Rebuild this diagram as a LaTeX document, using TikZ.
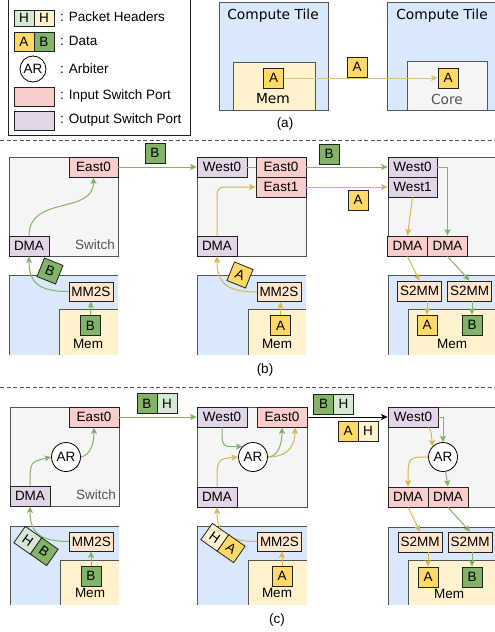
\documentclass[tikz,border=0pt]{standalone}
\usepackage{fontspec}
\setmainfont{Liberation Sans}
\newfontfamily\dejavu{DejaVu Sans}
\usetikzlibrary{arrows.meta,calc}
\definecolor{tileblue}{HTML}{DAE8FC}
\definecolor{memyel}{HTML}{FFF2CC}
\definecolor{swgray}{HTML}{F5F5F5}
\definecolor{inpink}{HTML}{F8CECC}
\definecolor{outpurp}{HTML}{E1D5E7}
\definecolor{convor}{HTML}{FFE6CC}
\definecolor{datA}{HTML}{FFD966}
\definecolor{datB}{HTML}{82B366}
\definecolor{hdrG}{HTML}{D5E8D4}
\definecolor{agreen}{HTML}{82B366}
\definecolor{ayel}{HTML}{D6B656}
\definecolor{apale}{HTML}{D8C27E}
\definecolor{lineC}{HTML}{222222}
\definecolor{tileC}{HTML}{555555}
\newcommand\lblfont{\fontsize{13.5}{15}\selectfont}
\newcommand\legfont{\fontsize{13.5}{16}\selectfont}
\newcommand\tilefont{\dejavu\fontsize{13.8}{15}\selectfont}
\begin{document}
\begin{tikzpicture}[x=1pt,y=-1pt,
  port/.style={draw=lineC, line width=0.8pt, minimum width=49pt, minimum height=20pt, inner sep=0pt, font=\lblfont},
  inport/.style={port, fill=inpink},
  outport/.style={port, fill=outpurp},
  conv/.style={port, fill=convor, minimum width=44pt, minimum height=19pt},
  dat/.style={draw=lineC, line width=0.8pt, minimum width=20pt, minimum height=20pt, inner sep=0pt, font=\lblfont},
  datA/.style={dat, fill=datA},
  datB/.style={dat, fill=datB},
  hdrG/.style={dat, fill=hdrG},
  hdrY/.style={dat, fill=memyel},
  arb/.style={circle, draw=black, line width=0.8pt, fill=white, minimum size=29pt, inner sep=0pt, font=\lblfont},
  tilebox/.style={fill=tileblue},
  tileedge/.style={draw=tileC, line width=0.8pt},
  swbox/.style={fill=swgray, draw=tileC, line width=0.8pt},
  membox/.style={fill=memyel},
  garr/.style={draw=agreen, line width=1pt, -{Stealth[length=6.5pt,width=6pt,inset=1.5pt]}},
  yarr/.style={draw=ayel, line width=1pt, -{Stealth[length=6.5pt,width=6pt,inset=1.5pt]}},
  karr/.style={draw=black, line width=1pt, -{Stealth[length=6.5pt,width=6pt,inset=1.5pt]}},
  txt/.style={inner sep=0pt, font=\lblfont},
  legtxt/.style={inner sep=0pt, anchor=west, font=\legfont},
  sep/.style={draw=tileC, line width=0.8pt, dash pattern=on 4pt off 2.5pt}
]
\useasboundingbox (0,0) rectangle (495,632);

% ---------------- legend ----------------
\draw[line width=0.8pt, draw=lineC] (8,-2) rectangle (190,135);
\node[hdrG, minimum height=16pt] (lh1) at (24,18) {H};
\node[hdrY, minimum height=16pt] (lh2) at (44,18) {H};
\node[legtxt] (lt1) at (60,17) {: Packet Headers};
\node[datA, minimum height=19pt] (la) at (24,41.5) {A};
\node[datB, minimum height=19pt] (lb) at (44,41.5) {B};
\node[legtxt] (lt2) at (60,41) {: Data};
\node[arb, minimum size=26pt] (lar) at (33,69) {AR};
\node[legtxt] (lt3) at (60,69) {: Arbiter};
\node[draw=lineC, line width=0.8pt, fill=inpink, minimum width=40pt, minimum height=19pt, inner sep=0pt] (lin) at (34,96.5) {};
\node[legtxt] (lt4) at (60,96) {: Input Switch Port};
\node[draw=lineC, line width=0.8pt, fill=outpurp, minimum width=40pt, minimum height=19pt, inner sep=0pt] (lout) at (34,120.5) {};
\node[legtxt] (lt5) at (60,120) {: Output Switch Port};

% ---------------- (a) ----------------
\draw[tilebox, tileedge] (219,2) rectangle (328,110);
\node[txt, font=\tilefont] (ct1) at (273,16) {Compute Tile};
\draw[membox, tileedge] (233,62) rectangle (315,110);
\node[datA] (aA1) at (273.5,78) {A};
\node[txt, font=\tilefont] (amem) at (273,99) {Mem};
\draw[tilebox, tileedge] (387,2) rectangle (497,110);
\node[txt, font=\tilefont] (ct2) at (442,16) {Compute Tile};
\draw[fill=swgray, draw=tileC, line width=0.8pt] (407,61) rectangle (487,110);
\node[datA] (aA2) at (448,78) {A};
\node[txt, font=\tilefont, text=tileC] (acore) at (447,99) {Core};
\draw[yarr, draw=apale] (aA1.east) -- (aA2.west);
\node[datA] (aAl) at (357,67) {A};
\node[txt] (lbla) at (285,124) {(a)};

\draw[sep] (0,140) -- (495,140);

% ---------------- (b) tile 1 ----------------
\draw[swbox] (9,157) rectangle (118,256);
\node[inport] (b1e0) at (93.5,167) {East0};
\node[outport, minimum width=40pt] (b1dma) at (29,246) {DMA};
\node[txt, anchor=east, text=tileC] (b1sw) at (115,245) {Switch};
\fill[tileblue] (9,275) rectangle (118,355);
\draw[tileedge] (9,355) -- (9,275) -- (118,275);
\node[conv] (b1mm) at (91,291.5) {MM2S};
\fill[memyel] (59,309) rectangle (118,355);
\draw[tileedge] (59,355) -- (59,309) -- (118,309);
\node[datB] (b1B) at (90.5,325.5) {B};
\node[txt] (b1mem) at (88,344) {Mem};
\draw[garr] (b1B.north) -- (b1mm.south);
\draw[garr] (b1mm.west) .. controls (38,291.5) and (29,282) .. (b1dma.south);
\draw[garr] (b1dma.north) .. controls (29,195) and (93.5,215) .. (b1e0.south);
\node[datB, rotate=-22] (b1rot) at (50,271) {B};

% ---------------- (b) tile 2 ----------------
\draw[swbox] (197,157) rectangle (306,256);
\node[outport, minimum width=50pt] (b2w0) at (222,167) {West0};
\node[inport, minimum width=50pt] (b2e0) at (281,167) {East0};
\node[inport, minimum width=50pt] (b2e1) at (281,187) {East1};
\node[outport, minimum width=40pt] (b2dma) at (217,246) {DMA};
\fill[tileblue] (197,275) rectangle (306,355);
\draw[tileedge] (197,355) -- (197,275) -- (306,275);
\node[conv] (b2mm) at (279,292) {MM2S};
\fill[memyel] (248,309) rectangle (306,355);
\draw[tileedge] (248,355) -- (248,309) -- (306,309);
\node[datA] (b2A) at (280.5,325.5) {A};
\node[txt] (b2mem) at (277,344) {Mem};
\draw[yarr] (b2A.north) -- (b2mm.south -| b2A.north);
\draw[yarr] (b2mm.west) .. controls (226,292) and (217,282) .. (b2dma.south);
\draw[yarr, rounded corners=7pt] (b2dma.north) |- (b2e1.west);
\draw[draw=agreen, line width=1pt] (b2w0.east) -- (b2e0.west);
\node[datA, rotate=-22] (b2rot) at (240,275) {A};

% links (b)
\draw[garr] (b1e0.east) -- (b2w0.west);
\node[datB] (b1lbl) at (155,153) {B};

% ---------------- (b) tile 3 ----------------
\draw[swbox] (388,157) rectangle (497,256);
\node[outport] (b3w0) at (412.5,167) {West0};
\node[outport] (b3w1) at (412.5,187) {West1};
\node[inport, minimum width=40pt] (b3d1) at (407.5,246) {DMA};
\node[inport, minimum width=40pt] (b3d2) at (447.5,246) {DMA};
\fill[tileblue] (388,275) rectangle (497,355);
\draw[tileedge] (388,355) -- (388,275) -- (497,275);
\node[conv, minimum height=20pt] (b3s1) at (419.5,291) {S2MM};
\node[conv, minimum height=20pt] (b3s2) at (469.5,291) {S2MM};
\fill[memyel] (408,309) rectangle (497,355);
\draw[tileedge] (408,355) -- (408,309) -- (497,309);
\node[datA] (b3A) at (427,325) {A};
\node[datB] (b3B) at (472,325) {B};
\node[txt] (b3mem) at (452,344) {Mem};
\draw[garr] (b2e0.east) -- (b3w0.west);
\draw[yarr] (b2e1.east) -- (b3w1.west);
\node[datB] (b2lbl) at (329,154) {B};
\node[datA] (b2lblA) at (358,200) {A};
\draw[yarr] (b3w1.south) -- (b3d1.north);
\draw[garr] (b3w0.east) -| (b3d2.north);
\draw[yarr] (b3d1.south) -- (b3s1.north);
\draw[garr] (b3d2.south) -- (b3s2.north);
\draw[yarr] (b3s1.south -| b3A.north) -- (b3A.north);
\draw[garr] (b3s2.south -| b3B.north) -- (b3B.north);
\node[txt] (lblb) at (265,370) {(b)};

\draw[sep] (0,387) -- (495,387);

% ---------------- (c) tile 1 ----------------
\draw[swbox] (10,407) rectangle (119,506);
\node[inport, minimum width=50pt] (c1e0) at (94,417) {East0};
\node[outport, minimum width=40pt] (c1dma) at (30,496) {DMA};
\node[txt, anchor=east, text=tileC] (c1sw) at (116,495) {Switch};
\node[arb] (c1ar) at (66,457) {AR};
\fill[tileblue] (10,526) rectangle (119,605);
\draw[tileedge] (10,605) -- (10,526) -- (119,526);
\node[conv] (c1mm) at (91.5,541.5) {MM2S};
\fill[memyel] (60,560) rectangle (119,605);
\draw[tileedge] (60,605) -- (60,560) -- (119,560);
\node[datB] (c1B) at (91,576) {B};
\node[txt] (c1mem) at (90,593) {Mem};
\draw[garr] (c1B.north) -- (c1mm.south -| c1B.north);
\draw[garr] (c1mm.west) .. controls (39,541.5) and (30,532) .. (c1dma.south);
\draw[garr] (c1dma.north) .. controls (30,462) .. (c1ar.west);
\draw[garr] (c1ar.east) .. controls (92,455) and (94,440) .. (c1e0.south);
\node[hdrG, rotate=-35] (c1rH) at (27.8,540.3) {H};
\node[datB, rotate=-35] (c1rB) at (44.2,551.7) {B};

% ---------------- (c) tile 2 ----------------
\draw[swbox] (197,407) rectangle (307,507);
\node[outport, minimum width=50pt] (c2w0) at (222,417) {West0};
\node[inport, minimum width=50pt] (c2e0) at (282,417) {East0};
\node[arb] (c2ar) at (253,457) {AR};
\node[outport, minimum width=40pt] (c2dma) at (217,497) {DMA};
\fill[tileblue] (197,526) rectangle (307,605);
\draw[tileedge] (197,605) -- (197,526) -- (307,526);
\node[conv] (c2mm) at (279.5,541.5) {MM2S};
\fill[memyel] (248,560) rectangle (307,605);
\draw[tileedge] (248,605) -- (248,560) -- (307,560);
\node[datA] (c2A) at (282,576) {A};
\node[txt] (c2mem) at (277,593) {Mem};
\draw[yarr] (c2A.north) -- (c2mm.south -| c2A.north);
\draw[yarr] (c2mm.west) .. controls (226,541.5) and (217,532) .. (c2dma.south);
\draw[yarr] (c2dma.north) .. controls (217,459) .. (c2ar.west);
\draw[garr] (c2w0.south) .. controls (222,447) .. (c2ar.north west);
\draw[garr] (c2ar.east) .. controls (279,457) and (282,442) .. (c2e0.south);
\coordinate (c2e0y) at ($(c2e0.south)+(13,0)$);
\draw[yarr] (c2ar.east) .. controls (291,457) and (295,442) .. (c2e0y);
\node[hdrY, rotate=-35] (c2rH) at (214.8,537.3) {H};
\node[datA, rotate=-35] (c2rA) at (231.2,548.7) {A};

\draw[garr] (c1e0.east) -- (c2w0.west);
\node[datB] (c1lB) at (147,403.5) {B};
\node[hdrG] (c1lH) at (167,403.5) {H};
\node[txt] (lblc) at (277,620) {(c)};

% ---------------- (c) tile 3 ----------------
\draw[swbox] (388,407) rectangle (497,507);
\node[outport, minimum width=50pt] (c3w0) at (413,417) {West0};
\node[arb] (c3ar) at (443,457) {AR};
\node[inport, minimum width=40pt] (c3d1) at (408,497) {DMA};
\node[inport, minimum width=40pt] (c3d2) at (448,497) {DMA};
\fill[tileblue] (388,527) rectangle (497,605);
\draw[tileedge] (388,605) -- (388,527) -- (497,527);
\node[conv, minimum height=20pt] (c3s1) at (420,542) {S2MM};
\node[conv, minimum height=20pt] (c3s2) at (470,542) {S2MM};
\fill[memyel] (408,560) rectangle (497,605);
\draw[tileedge] (408,605) -- (408,560) -- (497,560);
\node[datA] (c3A) at (428,577) {A};
\node[datB] (c3B) at (472,577) {B};
\node[txt] (c3mem) at (449,594) {Mem};
\draw[karr] (c2e0.east) -- (c3w0.west);
\node[datB] (c2lB) at (323.5,404) {B};
\node[hdrG] (c2lH) at (343.5,404) {H};
\node[datA] (c2lA) at (348,431) {A};
\node[hdrY] (c2lH2) at (368,431) {H};
\coordinate (c3w0y) at ($(c3w0.south east)+(-10,0)$);
\draw[yarr] (c3w0y) .. controls (431,430) .. (c3ar.north west);
\draw[garr] (c3w0.east) -| (c3ar.north);
\draw[yarr] (c3ar.west) .. controls (408,457) .. (c3d1.north);
\draw[garr] (c3ar.-80) -- (c3d2.north);
\draw[yarr] (c3d1.south) -- (c3s1.north);
\draw[garr] (c3d2.south) -- (c3s2.north);
\draw[yarr] (c3s1.south -| c3A.north) -- (c3A.north);
\draw[garr] (c3s2.south -| c3B.north) -- (c3B.north);
\end{tikzpicture}
\end{document}
